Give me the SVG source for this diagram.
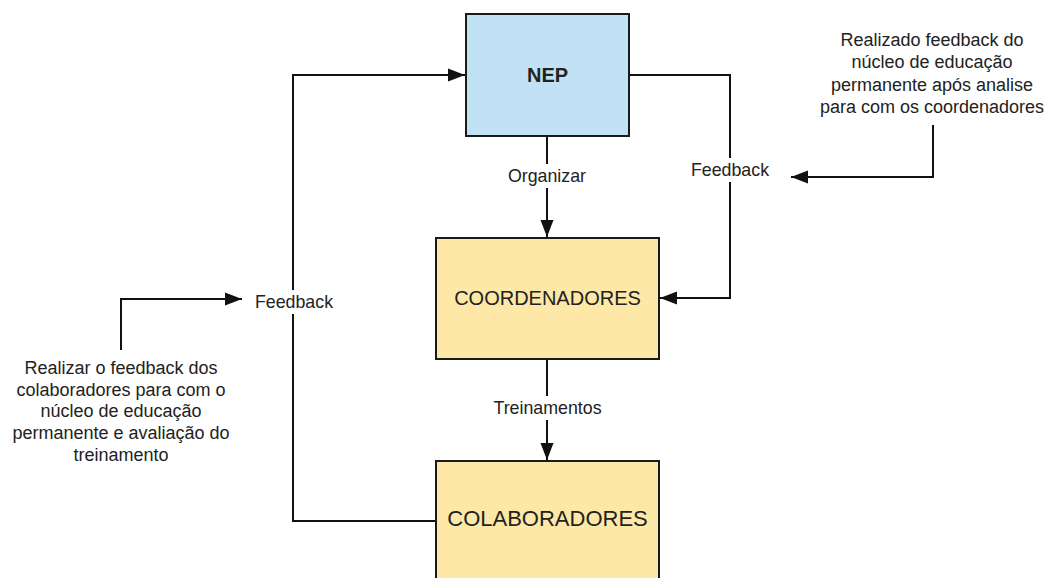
<svg xmlns="http://www.w3.org/2000/svg" width="1048" height="578" viewBox="0 0 1048 578">
<style>
.box{stroke:#1a1a1a;stroke-width:2}
.nep{fill:#c1e2f5}
.yel{fill:#fde8a7}
.ln{fill:none;stroke:#111;stroke-width:2}
.t{font-family:"Liberation Sans",Arial,sans-serif;fill:#222;text-anchor:middle;dominant-baseline:central}
.lbl{font-size:17.8px}
.bg{fill:#fff}
</style>
<defs>
<marker id="ah" markerWidth="18" markerHeight="14" refX="17" refY="7" orient="auto" markerUnits="userSpaceOnUse">
<path d="M0,0.5 L17,7 L0,13.5 Z" fill="#111"/>
</marker>
</defs>
<rect width="1048" height="578" fill="#fff"/>
<g id="connectors">
<path class="ln" d="M547,136 V237" marker-end="url(#ah)"/>
<path class="ln" d="M629,75 H730 V298 H660" marker-end="url(#ah)"/>
<path class="ln" d="M436,521 H293 V75 H465" marker-end="url(#ah)"/>
<path class="ln" d="M547,359 V460" marker-end="url(#ah)"/>
<path class="ln" d="M121,350 V299 H242" marker-end="url(#ah)"/>
<path class="ln" d="M933,125 V177 H791" marker-end="url(#ah)"/>
<rect class="bg" x="505" y="164" width="84" height="24"/>
<text class="t lbl" x="547" y="176">Organizar</text>
<rect class="bg" x="689" y="158" width="82" height="24"/>
<text class="t lbl" x="730" y="170">Feedback</text>
<rect class="bg" x="252" y="290" width="83" height="24"/>
<text class="t lbl" x="294" y="302">Feedback</text>
<rect class="bg" x="491" y="396" width="113" height="24"/>
<text class="t lbl" x="547.5" y="408">Treinamentos</text>
</g>
<g id="nep">
<rect class="box nep" x="466" y="14" width="163" height="122"/>
<text class="t" x="547.5" y="75" font-size="20" font-weight="bold">NEP</text>
</g>
<g id="coordenadores">
<rect class="box yel" x="436" y="238" width="223" height="121"/>
<text class="t" x="547.5" y="298" font-size="20">COORDENADORES</text>
</g>
<g id="colaboradores">
<rect class="box yel" x="436" y="461" width="223" height="130"/>
<text class="t" x="547.5" y="518" font-size="22">COLABORADORES</text>
</g>
<g id="note-left">
<text class="t" font-size="18" x="121" y="368">Realizar o feedback dos</text>
<text class="t" font-size="18" x="121" y="389.5">colaboradores para com o</text>
<text class="t" font-size="18" x="121" y="411">núcleo de educação</text>
<text class="t" font-size="18" x="121" y="433">permanente e avaliação do</text>
<text class="t" font-size="18" x="121" y="454.5">treinamento</text>
</g>
<g id="note-right">
<text class="t" font-size="18" x="932" y="40">Realizado feedback do</text>
<text class="t" font-size="18" x="932" y="62">núcleo de educação</text>
<text class="t" font-size="18" x="932" y="85">permanente após analise</text>
<text class="t" font-size="18" x="932" y="107">para com os coordenadores</text>
</g>
</svg>
